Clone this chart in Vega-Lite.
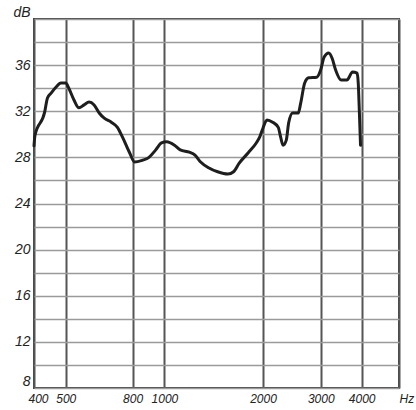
{
  "$schema": "https://vega.github.io/schema/vega-lite/v6.json",
  "width": 365,
  "height": 369,
  "autosize": {"type": "none"},
  "padding": {"left": 34, "top": 19, "right": 17, "bottom": 22},
  "background": "#ffffff",
  "config": {
    "view": {"stroke": "#444444", "strokeWidth": 2},
    "axis": {
      "labelFont": "Liberation Sans",
      "labelFontStyle": "italic",
      "labelFontSize": 13,
      "labelColor": "#222222",
      "ticks": false,
      "domain": false,
      "title": null
    }
  },
  "data": {
    "values": [
      {"f": 400, "db": 29.0},
      {"f": 402.7, "db": 29.9},
      {"f": 430.9, "db": 31.9},
      {"f": 439.7, "db": 33.15},
      {"f": 451.8, "db": 33.6},
      {"f": 467.3, "db": 34.1},
      {"f": 483.4, "db": 34.45},
      {"f": 500, "db": 34.45},
      {"f": 510.8, "db": 34.0},
      {"f": 529.3, "db": 33.0},
      {"f": 548.5, "db": 32.3},
      {"f": 568.4, "db": 32.55},
      {"f": 589.0, "db": 32.8},
      {"f": 610.3, "db": 32.55},
      {"f": 632.5, "db": 31.85},
      {"f": 655.4, "db": 31.4},
      {"f": 688.8, "db": 31.05},
      {"f": 718.9, "db": 30.6},
      {"f": 745.0, "db": 29.75},
      {"f": 783.1, "db": 28.4},
      {"f": 810.9, "db": 27.6},
      {"f": 856.0, "db": 27.75},
      {"f": 897.4, "db": 28.0},
      {"f": 941.0, "db": 28.65},
      {"f": 979.9, "db": 29.25},
      {"f": 1016, "db": 29.35},
      {"f": 1074, "db": 29.05},
      {"f": 1118, "db": 28.65},
      {"f": 1192, "db": 28.45},
      {"f": 1240, "db": 28.2},
      {"f": 1290, "db": 27.6},
      {"f": 1364, "db": 27.1},
      {"f": 1454, "db": 26.75},
      {"f": 1562, "db": 26.55},
      {"f": 1626, "db": 26.75},
      {"f": 1692, "db": 27.5},
      {"f": 1803, "db": 28.4},
      {"f": 1907, "db": 29.25},
      {"f": 1953, "db": 29.75},
      {"f": 2000, "db": 30.55},
      {"f": 2057, "db": 31.25},
      {"f": 2140, "db": 31.05},
      {"f": 2226, "db": 30.6},
      {"f": 2264, "db": 29.75},
      {"f": 2302, "db": 29.05},
      {"f": 2355, "db": 29.5},
      {"f": 2395, "db": 31.0},
      {"f": 2463, "db": 31.85},
      {"f": 2562, "db": 31.85},
      {"f": 2606, "db": 32.7},
      {"f": 2680, "db": 34.45},
      {"f": 2757, "db": 34.9},
      {"f": 2917, "db": 34.95},
      {"f": 3000, "db": 35.6},
      {"f": 3073, "db": 36.7},
      {"f": 3173, "db": 37.05},
      {"f": 3250, "db": 36.6},
      {"f": 3329, "db": 35.6},
      {"f": 3464, "db": 34.7},
      {"f": 3605, "db": 34.7},
      {"f": 3752, "db": 35.4},
      {"f": 3874, "db": 35.3},
      {"f": 3905, "db": 34.45},
      {"f": 3937, "db": 31.85},
      {"f": 3968, "db": 29.05}
    ]
  },
  "layer": [
    {
      "mark": {"type": "line", "color": "#1e1e1e", "strokeWidth": 3, "interpolate": "monotone", "strokeJoin": "round", "strokeCap": "round"},
      "encoding": {
        "x": {
          "field": "f",
          "type": "quantitative",
          "scale": {"type": "log", "domain": [400, 5200], "nice": false},
          "axis": {
            "values": [400, 500, 800, 1000, 2000, 3000, 4000, 5200],
            "format": "d",
            "labelExpr": "datum.value == 5200 ? 'Hz' : datum.label",
            "labelAlign": {"condition": {"test": "datum.value == 5200", "value": "left"}, "value": "center"},
            "labelOffset": {"condition": {"test": "datum.value == 400", "value": 4}, "value": 0},
            "labelPadding": 5,
            "labelFontSize": 12,
            "grid": true,
            "gridColor": "#555555",
            "gridWidth": 2,
            "gridOpacity": 1
          }
        },
        "y": {
          "field": "db",
          "type": "quantitative",
          "scale": {"domain": [8, 40], "nice": false},
          "axis": {
            "values": [8, 10, 12, 14, 16, 18, 20, 22, 24, 26, 28, 30, 32, 34, 36, 38, 40],
            "labelExpr": "datum.value % 4 == 0 ? (datum.value == 40 ? 'dB' : datum.label) : ''",
            "labelBaseline": {"condition": {"test": "datum.value == 8 || datum.value == 40", "value": "bottom"}, "value": "middle"},
            "labelPadding": 4,
            "labelFontSize": 14,
            "grid": true,
            "gridColor": "#9a9a9a",
            "gridWidth": 1.5,
            "gridOpacity": 1
          }
        }
      }
    }
  ]
}
